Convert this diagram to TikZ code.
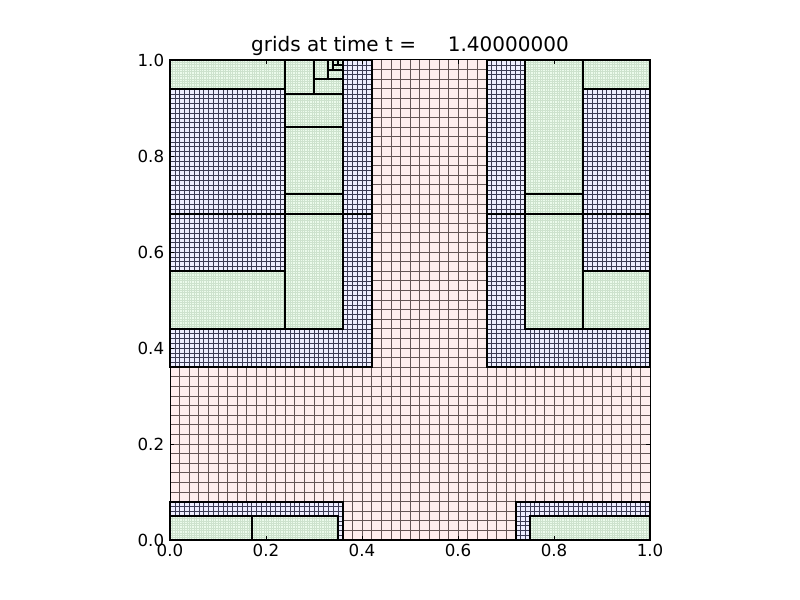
\documentclass[tikz,border=0pt]{standalone}
\usepackage{fontspec}
\setmainfont{DejaVu Sans}
\definecolor{lonefill}{RGB}{255,238,238}
\definecolor{ltwofill}{RGB}{238,238,255}
\definecolor{lthreefill}{RGB}{236,251,236}
\definecolor{lonegrid}{RGB}{100,85,85}
\definecolor{ltwogrid}{RGB}{60,60,85}
\definecolor{lthreegrid}{RGB}{205,226,205}
\tikzset{
  lonegridline/.style={draw=lonegrid, line width=0.5pt},
  ltwogridline/.style={draw=ltwogrid, line width=0.38pt},
  lthreegridline/.style={draw=lthreegrid, line width=0.22pt},
  patchborder/.style={draw=black, line width=1.5pt},
  ticklab/.style={inner sep=0pt, font=\fontsize{12.5}{15}\selectfont},
  titlelab/.style={inner sep=0pt, anchor=base, font=\fontsize{15}{18}\selectfont},
  tickmark/.style={draw=black, line width=0.6pt}
}
\begin{document}
\begin{tikzpicture}[x=360pt,y=360pt]
\useasboundingbox (-0.3541667,-0.125) rectangle (1.3125,1.125);
% level 1
\fill[lonefill] (0,0) rectangle (1,1);
\draw[lonegridline] (0,0) grid[step=0.02] (1,1);
% level 2
\foreach \xa/\ya/\xb/\yb in {0/0.36/0.42/0.68, 0/0.68/0.42/1, 0.66/0.36/1/0.68, 0.66/0.68/1/1, 0/0/0.36/0.08, 0.72/0/1/0.08}{
  \fill[ltwofill] (\xa,\ya) rectangle (\xb,\yb);
  \draw[ltwogridline] (\xa,\ya) grid[step=0.01] (\xb,\yb);
}
% level 3
\foreach \xa/\ya/\xb/\yb in {0/0.94/0.24/1, 0.24/0.93/0.30/1, 0.30/0.93/0.36/0.96, 0.30/0.96/0.33/1, 0.33/0.96/0.36/0.98, 0.33/0.98/0.34/1, 0.34/0.98/0.36/0.99, 0.34/0.99/0.35/1, 0.35/0.99/0.36/1, 0.24/0.86/0.36/0.93, 0.24/0.72/0.36/0.86, 0.24/0.68/0.36/0.72, 0.24/0.44/0.36/0.68, 0/0.44/0.24/0.56, 0.74/0.72/0.86/1, 0.74/0.68/0.86/0.72, 0.74/0.44/0.86/0.68, 0.86/0.94/1/1, 0.86/0.44/1/0.56, 0/0/0.17/0.05, 0.17/0/0.35/0.05, 0.75/0/1/0.05}{
  \fill[lthreefill] (\xa,\ya) rectangle (\xb,\yb);
  \draw[lthreegridline] (\xa,\ya) grid[step=0.005] (\xb,\yb);
}
% borders
\foreach \xa/\ya/\xb/\yb in {0/0.36/0.42/0.68, 0/0.68/0.42/1, 0.66/0.36/1/0.68, 0.66/0.68/1/1, 0/0/0.36/0.08, 0.72/0/1/0.08, 0/0.94/0.24/1, 0.24/0.93/0.30/1, 0.30/0.93/0.36/0.96, 0.30/0.96/0.33/1, 0.33/0.96/0.36/0.98, 0.33/0.98/0.34/1, 0.34/0.98/0.36/0.99, 0.34/0.99/0.35/1, 0.35/0.99/0.36/1, 0.24/0.86/0.36/0.93, 0.24/0.72/0.36/0.86, 0.24/0.68/0.36/0.72, 0.24/0.44/0.36/0.68, 0/0.44/0.24/0.56, 0.74/0.72/0.86/1, 0.74/0.68/0.86/0.72, 0.74/0.44/0.86/0.68, 0.86/0.94/1/1, 0.86/0.44/1/0.56, 0/0/0.17/0.05, 0.17/0/0.35/0.05, 0.75/0/1/0.05}{
  \draw[patchborder] (\xa,\ya) rectangle (\xb,\yb);
}
% axes frame
\draw[black, line width=0.75pt] (0,0) rectangle (1,1);
% ticks and labels
\foreach \t/\l [count=\i] in {0/0.0, 0.2/0.2, 0.4/0.4, 0.6/0.6, 0.8/0.8, 1/1.0}{
  \draw[tickmark] (\t,0) -- (\t,0.0085);
  \draw[tickmark] (\t,1) -- (\t,0.9915);
  \draw[tickmark] (0,\t) -- (0.0085,\t);
  \draw[tickmark] (1,\t) -- (0.9915,\t);
  \node[ticklab, anchor=north] (xl\i) at (\t,-0.0075) {\l};
  \node[ticklab, anchor=east] (yl\i) at (-0.0117,\t) {\l};
}
\node[titlelab] (title) at (0.5,1.0167) {grids at time t =\hspace{1.59em}1.40000000};
\end{tikzpicture}
\end{document}
